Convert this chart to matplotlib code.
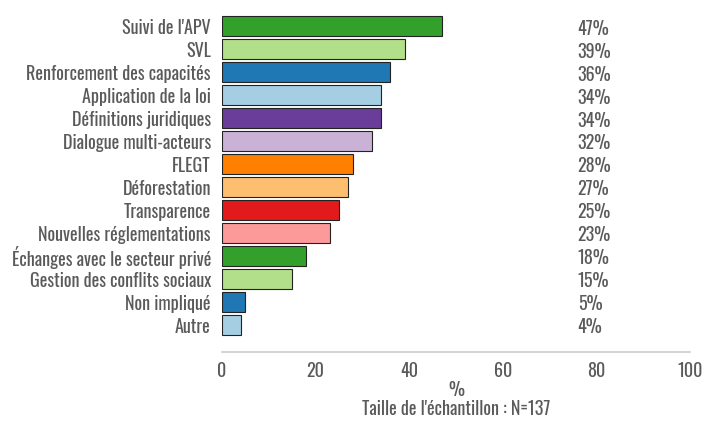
import matplotlib
matplotlib.use("Agg")
import matplotlib.pyplot as plt

plt.rcParams["font.family"] = ["Oswald", "DejaVu Sans"]
plt.rcParams["font.weight"] = 300

# thèmes abordés, du plus cité au moins cité
categories = [
    "Suivi de l'APV", "SVL", "Renforcement des capacités",
    "Application de la loi", "Définitions juridiques",
    "Dialogue multi-acteurs", "FLEGT", "Déforestation", "Transparence",
    "Nouvelles réglementations", "Échanges avec le secteur privé",
    "Gestion des conflits sociaux", "Non impliqué", "Autre",
]
values = [47, 39, 36, 34, 34, 32, 28, 27, 25, 23, 18, 15, 5, 4]
colors = [
    "#33a02c", "#b2df8a", "#1f78b4", "#a6cee3", "#6a3d9a", "#cab2d6",
    "#ff7f00", "#fdbf6f", "#e31a1c", "#fb9a99", "#33a02c", "#b2df8a",
    "#1f78b4", "#a6cee3",
]
xticks = [0, 20, 40, 60, 80, 100]
sample_note = "Taille de l'échantillon : N=137"

text_color = "#5a5a5a"
fs = 13

fig = plt.figure(figsize=(7.05, 4.25), dpi=100)
ax = fig.add_axes([222 / 705, 1 - 352 / 425, 468 / 705, 340 / 425])

ypos = list(range(len(categories)))
ax.barh(ypos, values, height=0.86, color=colors, edgecolor="#222222",
        linewidth=0.8)

for y, v in zip(ypos, values):
    ax.text(76.0, y + 0.1, "%d%%" % v, ha="left", va="center",
            fontsize=fs, color=text_color)

ax.set_xlim(0, 100)
ax.set_ylim(len(categories) - 1 + 1.17, -0.62)
ax.set_yticks(ypos)
ax.set_yticklabels(categories, fontsize=fs, color=text_color)
ax.set_xticks(xticks)
ax.set_xticklabels([str(t) for t in xticks], fontsize=fs, color=text_color)
ax.tick_params(axis="both", length=0)
ax.tick_params(axis="x", pad=7)
ax.tick_params(axis="y", pad=8)

for side in ("top", "right", "left"):
    ax.spines[side].set_visible(False)
ax.spines["bottom"].set_color("#cccccc")
ax.spines["bottom"].set_linewidth(1.2)

ax.set_xlabel("%\n" + sample_note, fontsize=fs, color=text_color,
              labelpad=1, linespacing=1.05)

fig.savefig("out.png")
